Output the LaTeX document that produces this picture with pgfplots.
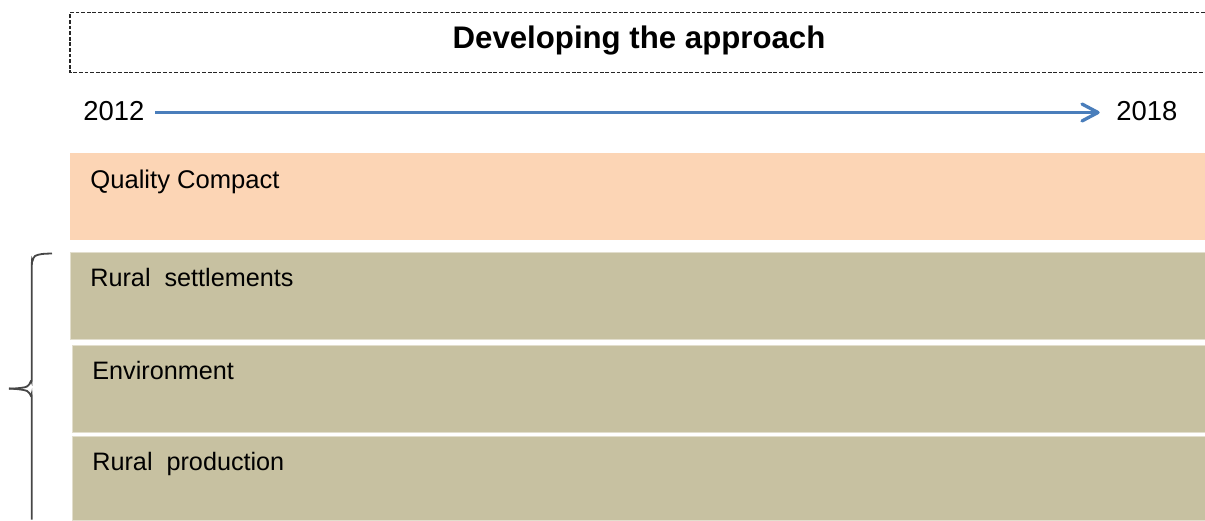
\documentclass[border=0pt]{standalone}
\usepackage{fontspec}
\setmainfont{Liberation Sans}
\usepackage{pgfplots}
\pgfplotsset{compat=1.18}
\definecolor{peach}{RGB}{252,213,181}
\definecolor{tan}{RGB}{199,193,161}
\definecolor{tanedge}{RGB}{226,222,205}
\definecolor{arrowblue}{RGB}{74,126,187}
\definecolor{bracegray}{RGB}{70,70,70}
\begin{document}
\begin{tikzpicture}
\begin{axis}[
  width=602.5pt, height=260pt, scale only axis,
  xmin=0, xmax=1205, ymin=0, ymax=520,
  y dir=reverse, hide axis, clip=true,
]
% full canvas (invisible, fixes the picture's extent)
\addplot[draw=none, fill=none] coordinates {(0,0)(1205,0)(1205,520)(0,520)} --cycle;
% title box (dashed)
\addplot[black!85, line width=0.65pt, dash pattern=on 1.9pt off 0.9pt]
  coordinates {(1205,12.7)(70,12.7)(70,72.7)(1205,72.7)};
% timeline arrow
\addplot[arrowblue, line width=1.65pt]
  coordinates {(155,112.5)(1097,112.5)};
\addplot[arrowblue, line width=1.65pt, line cap=round, line join=round]
  coordinates {(1082,104)(1098,112.5)(1082,121)};
% bands
\addplot[draw=none, fill=peach] coordinates {(70,153)(1205,153)(1205,240)(70,240)} --cycle;
\addplot[draw=tanedge, line width=0.5pt, fill=tan] coordinates {(70,252.3)(1205,252.3)(1205,339)(70,339)} --cycle;
\addplot[draw=tanedge, line width=0.5pt, fill=tan] coordinates {(72,345)(1205,345)(1205,432.3)(72,432.3)} --cycle;
\addplot[draw=tanedge, line width=0.5pt, fill=tan] coordinates {(72,436)(1205,436)(1205,520)(72,520)} --cycle;
% brace
\addplot[bracegray, line width=0.9pt, smooth, tension=0.5]
  coordinates {(52,253.5)(42,254)(35,256)(32.5,261)(31.8,270)(31.8,372)(31,381)(27,386.5)(18,388.2)(9,388.6)};
\addplot[bracegray, line width=0.9pt, smooth, tension=0.5]
  coordinates {(9,388.6)(18,389.2)(27,391)(31,396)(31.8,405)(31.8,519.5)};
% texts
\node[anchor=base, font=\fontsize{15.6}{18}\selectfont\bfseries] at (axis cs:639,48) {Developing the approach};
\node[anchor=base west, inner sep=0pt, font=\fontsize{13.7}{16}\selectfont] at (axis cs:83,120) {2012};
\node[anchor=base west, inner sep=0pt, font=\fontsize{13.7}{16}\selectfont] at (axis cs:1116,120) {2018};
\node[anchor=base west, inner sep=0pt, font=\fontsize{12.8}{15}\selectfont] at (axis cs:90,188) {Quality Compact};
\node[anchor=base west, inner sep=0pt, font=\fontsize{12.6}{15}\selectfont] at (axis cs:90,286.7) {Rural\ \ settlements};
\node[anchor=base west, inner sep=0pt, font=\fontsize{12.6}{15}\selectfont] at (axis cs:92,379) {Environment};
\node[anchor=base west, inner sep=0pt, font=\fontsize{12.6}{15}\selectfont] at (axis cs:92,470) {Rural\ \ production};
\end{axis}
\end{tikzpicture}
\end{document}
